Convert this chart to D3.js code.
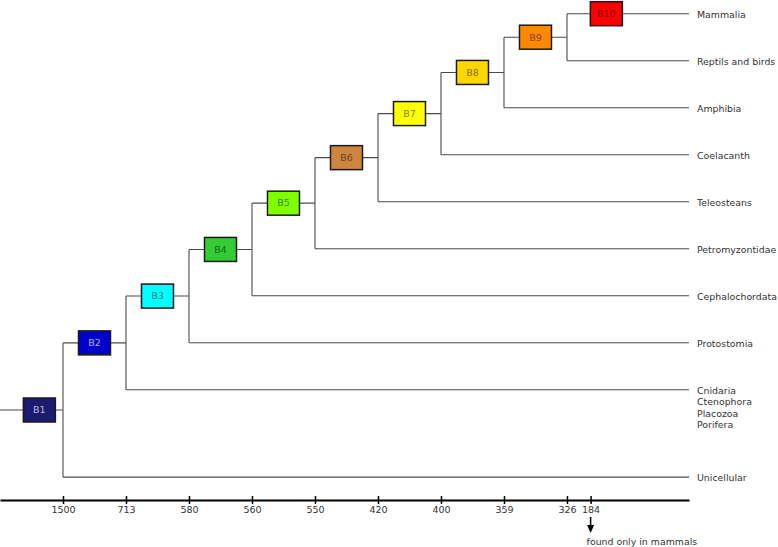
<!DOCTYPE html>
<html>
<head>
<meta charset="utf-8">
<script src="https://cdn.jsdelivr.net/npm/d3@7"></script>
<style>
  html, body { margin: 0; padding: 0; background: #fff; }
  svg { display: block; }
  text { font-family: "DejaVu Sans", sans-serif; }
</style>
</head>
<body>
<svg id="chart" width="778" height="547"></svg>
<script>
// ---- data ----
const leafNames = [
  "Mammalia", "Reptils and birds", "Amphibia", "Coelacanth", "Teleosteans",
  "Petromyzontidae", "Cephalochordata", "Protostomia",
  "Cnidaria\nCtenophora\nPlacozoa\nPorifera", "Unicellular"
];
const leafRows = [0, 1, 2, 3, 4, 5, 6, 7, 8, 9.86];
const nodeLevels = [1, 2, 3, 4, 5, 6, 7, 8, 9];
const tickLabels = ["1500", "713", "580", "560", "550", "420", "400", "359", "326", "184"];
const tickLevels = [1, 2, 3, 4, 5, 6, 7, 8, 9, 9.375];
const boxLabels = ["B1", "B2", "B3", "B4", "B5", "B6", "B7", "B8", "B9", "B10"];
const boxLevels = [0.625, 1.5, 2.5, 3.5, 4.5, 5.5, 6.5, 7.5, 8.5, 9.625];
const boxColors = ["#1b1b6f", "#0000cc", "#00ffff", "#33cc33", "#80ff00",
                   "#cd853f", "#ffff00", "#ffd700", "#ff8800", "#ff0000"];
const noteText = "found only in mammals";
const noteLevel = 9.375;

// ---- layout ----
const svg = d3.select("#chart");
const leafEnd = 689;
const x = d3.scaleLinear().domain([0, 10.937]).range([0, 689]);
const y = d3.scaleLinear().domain([0, 1]).range([13.7, 60.7]);
const axisY = 500;
const lineColor = "#4a4a4a";

// build caterpillar tree from the arrays
let sub = {level: nodeLevels[8], children: [
  {name: leafNames[0], row: leafRows[0]},
  {name: leafNames[1], row: leafRows[1]}
]};
for (let k = 7; k >= 0; k--) {
  const li = 9 - nodeLevels[k];
  sub = {level: nodeLevels[k], children: [sub, {name: leafNames[li + 1], row: leafRows[li + 1]}]};
}
const root = d3.hierarchy(sub);
root.eachAfter(d => {
  if (d.children) {
    d.py = d3.mean(d.children, c => c.py);
    d.px = x(d.data.level);
  } else {
    d.py = y(d.data.row);
    d.px = leafEnd;
  }
});

const g = svg.append("g");

// root stem
g.append("line")
  .attr("x1", 0).attr("x2", root.px)
  .attr("y1", root.py).attr("y2", root.py)
  .attr("stroke", lineColor).attr("stroke-width", 1.1);

const internal = root.descendants().filter(d => d.children);
// verticals
g.selectAll("line.v").data(internal).join("line")
  .attr("class", "v")
  .attr("x1", d => d.px).attr("x2", d => d.px)
  .attr("y1", d => d3.min(d.children, c => c.py))
  .attr("y2", d => d3.max(d.children, c => c.py))
  .attr("stroke", lineColor).attr("stroke-width", 1.1);
// horizontals
g.selectAll("line.h").data(root.links()).join("line")
  .attr("class", "h")
  .attr("x1", d => d.source.px).attr("x2", d => d.target.px)
  .attr("y1", d => d.target.py).attr("y2", d => d.target.py)
  .attr("stroke", lineColor).attr("stroke-width", 1.1);

// leaf labels
const leaves = root.leaves();
const lbl = g.selectAll("text.leaf").data(leaves).join("text")
  .attr("class", "leaf")
  .attr("x", leafEnd + 8)
  .attr("y", d => d.py + 1)
  .attr("font-size", "9.4px")
  .attr("fill", "#333");
lbl.each(function(d) {
  const lines = d.data.name.split("\n");
  d3.select(this).selectAll("tspan").data(lines).join("tspan")
    .attr("x", leafEnd + 8)
    .attr("dy", (l, i) => i === 0 ? "0.35em" : "11.5px")
    .text(l => l);
});

// boxes
const boxW = 32, boxH = 24;
const boxData = boxLabels.map((b, i) => ({
  label: b,
  color: boxColors[i],
  cx: x(boxLevels[i]),
  cy: i < internal.length ? internal[i].py : leaves[0].py
}));
const bg = g.selectAll("g.box").data(boxData).join("g").attr("class", "box");
bg.append("rect")
  .attr("x", d => d.cx - boxW / 2).attr("y", d => d.cy - boxH / 2)
  .attr("width", boxW).attr("height", boxH)
  .attr("fill", d => d.color)
  .attr("stroke", "#1a1a1a").attr("stroke-width", 1.5);
bg.append("text")
  .attr("x", d => d.cx).attr("y", d => d.cy)
  .attr("dy", "0.35em")
  .attr("text-anchor", "middle")
  .attr("font-size", "9.5px")
  .attr("fill", d => d3.lab(d.color).l < 45 ? "#ffffff" : "#000000")
  .attr("fill-opacity", d => d3.lab(d.color).l < 45 ? 0.7 : 0.55)
  .text(d => d.label);

// axis
const axis = d3.axisBottom(x)
  .tickValues(tickLevels)
  .tickFormat((v, i) => tickLabels[i])
  .tickSizeInner(4)
  .tickSizeOuter(0)
  .tickPadding(2);
const ag = svg.append("g").attr("transform", `translate(0,${axisY})`).call(axis);
ag.select(".domain").attr("stroke", "#000").attr("stroke-width", 2);
ag.selectAll(".tick line").attr("y1", -4).attr("y2", 4).attr("stroke", "#000").attr("stroke-width", 1.5);
ag.selectAll(".tick text")
  .attr("font-family", "DejaVu Sans, sans-serif")
  .attr("font-size", "9.5px").attr("fill", "#333");

// annotation arrow
const nx = x(noteLevel);
svg.append("line")
  .attr("x1", nx).attr("x2", nx).attr("y1", 517).attr("y2", 527)
  .attr("stroke", "#000").attr("stroke-width", 1.5);
svg.append("path")
  .attr("d", d3.line()([[nx - 3.5, 525], [nx + 3.5, 525], [nx, 533]]) + "Z")
  .attr("fill", "#000");
svg.append("text")
  .attr("x", nx - 4).attr("y", 545)
  .attr("font-size", "9.4px").attr("fill", "#333")
  .text(noteText);
</script>
</body>
</html>
